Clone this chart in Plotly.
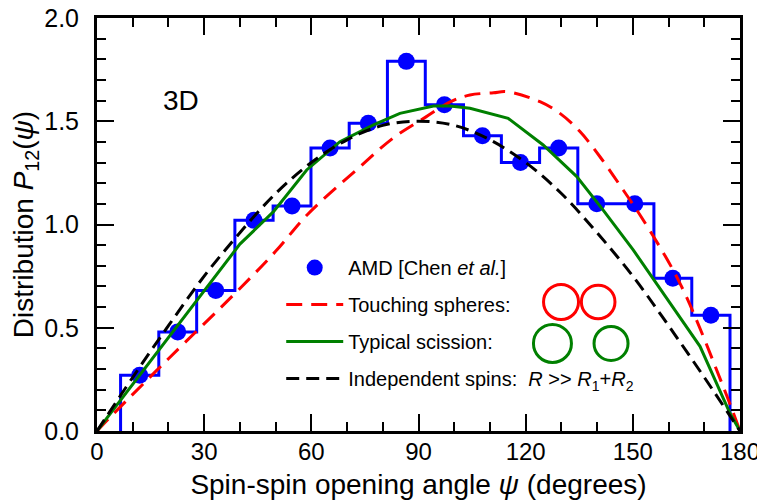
import plotly.graph_objects as go

# ---- data ----
bin_edges = [6.6, 17.3, 27.9, 38.6, 49.3, 59.9, 70.6, 81.3, 91.9, 102.6,
             113.2, 123.9, 134.6, 145.2, 155.9, 166.5, 177.2]
amd_values = [0.27, 0.48, 0.68, 1.02, 1.09, 1.37, 1.49, 1.79, 1.58, 1.43,
              1.30, 1.37, 1.10, 1.10, 0.74, 0.56]

touch_x = [0, 5, 20, 40, 50, 59, 73, 83, 92, 99, 104.4, 111, 114.7, 124, 129.6,
           135.2, 140.8, 147.3, 152.9, 163.2, 175.3, 180]
touch_y = [0, 0.09, 0.35, 0.69, 0.87, 1.05, 1.27, 1.42, 1.52, 1.595, 1.627, 1.638,
           1.643, 1.595, 1.538, 1.45, 1.328, 1.167, 1.022, 0.715, 0.215, 0]

sciss_x = [0, 20, 40, 49.4, 58.7, 68, 77.4, 84.8, 94.2, 98.8, 104.4, 115.1, 124.9,
           134.3, 141.7, 150.1, 155.7, 168.8, 177.2, 180]
sciss_y = [0, 0.45, 0.905, 1.062, 1.264, 1.401, 1.482, 1.538, 1.574, 1.574, 1.563,
           1.514, 1.385, 1.232, 1.07, 0.877, 0.739, 0.41, 0.086, 0]

indep_x = [0, 10, 20, 30, 40, 50, 60, 70, 80, 90, 100, 110, 120, 130, 140, 150,
           160, 170, 180]
indep_y = [0, 0.26, 0.51, 0.75, 0.96, 1.15, 1.30, 1.41, 1.48, 1.50, 1.48, 1.41,
           1.30, 1.15, 0.96, 0.75, 0.51, 0.26, 0]

x_ticks = [0, 30, 60, 90, 120, 150, 180]
y_ticks = [0.0, 0.5, 1.0, 1.5, 2.0]

# derived
centers = [(a + b) / 2 for a, b in zip(bin_edges[:-1], bin_edges[1:])]
step_x = [bin_edges[0]] + bin_edges
step_y = [0] + amd_values + [0]

FONT = "Liberation Sans, Arial, Helvetica, sans-serif"
BLUE, RED, GREEN = "#0000ff", "#ff0000", "#008000"

fig = go.Figure()
fig.add_trace(go.Scatter(x=step_x, y=step_y, mode="lines", line_shape="hv",
                         line=dict(color=BLUE, width=3), showlegend=False,
                         hoverinfo="skip"))
fig.add_trace(go.Scatter(x=centers, y=amd_values, mode="markers",
                         marker=dict(color=BLUE, size=17),
                         name="AMD [Chen <i>et al.</i>]", legendgroup="a"))
fig.add_trace(go.Scatter(x=touch_x, y=touch_y, mode="lines", line_shape="spline",
                         line=dict(color=RED, width=3, dash="16px,9px"),
                         name="Touching spheres:", legendgroup="b"))
fig.add_trace(go.Scatter(x=sciss_x, y=sciss_y, mode="lines",
                         line=dict(color=GREEN, width=3),
                         name="Typical scission:", legendgroup="c"))
fig.add_trace(go.Scatter(x=indep_x, y=indep_y, mode="lines", line_shape="spline",
                         line=dict(color="black", width=3, dash="13px,7px"),
                         name="Independent spins:&nbsp;&nbsp;<i>R</i> &gt;&gt; <i>R</i><sub>1</sub>+<i>R</i><sub>2</sub>",
                         legendgroup="d"))

# illustration circles (pixel-sized, anchored in data space)
for cx, cy, r, col in [(129.9, 0.625, 17.5, RED), (140.3, 0.625, 16.8, RED),
                       (127.5, 0.424, 19.0, GREEN), (143.9, 0.424, 17.0, GREEN)]:
    fig.add_shape(type="circle", xref="x", yref="y", xsizemode="pixel",
                  ysizemode="pixel", xanchor=cx, yanchor=cy,
                  x0=-r, x1=r, y0=-r, y1=r, line=dict(color=col, width=3))

fig.add_annotation(x=23.5, y=1.6, xref="x", yref="y", text="3D", showarrow=False,
                   font=dict(size=28, color="black", family=FONT))

axis_common = dict(showline=True, linewidth=3, linecolor="black", mirror="allticks",
                   ticks="inside", ticklen=17, tickwidth=2, tickcolor="black",
                   showgrid=False, zeroline=False, automargin=False,
                   ticklabeloverflow="allow")
fig.update_xaxes(range=[0, 180], tickvals=x_ticks, ticklabelstandoff=-3,
                 tickfont=dict(size=24, color="black", family=FONT),
                 minor=dict(dtick=10, ticks="inside", ticklen=9, tickwidth=2,
                            tickcolor="black", showgrid=False),
                 title=dict(text="Spin-spin opening angle <i>ψ</i> (degrees)",
                            font=dict(size=28, color="black", family=FONT)),
                 **axis_common)
fig.update_yaxes(range=[0, 2], tickvals=y_ticks, tickformat=".1f", ticklabelstandoff=10,
                 tickfont=dict(size=25, color="black", family=FONT),
                 minor=dict(dtick=0.1, ticks="inside", ticklen=9, tickwidth=2,
                            tickcolor="black", showgrid=False),
                 title=dict(text="Distribution <i>P</i><sub>12</sub>(<i>ψ</i>)",
                            font=dict(size=28, color="black", family=FONT),
                            standoff=30),
                 **axis_common)

# the page body adds an 8px offset, so the figure is 8px smaller than the window
fig.update_layout(
    width=757, height=492,
    margin=dict(l=89, r=25, t=10, b=69),
    paper_bgcolor="white", plot_bgcolor="white",
    font=dict(family=FONT, color="black"),
    legend=dict(x=0.2865, y=0.443, xanchor="left", yanchor="top",
                bgcolor="rgba(0,0,0,0)", font=dict(size=20, color="black", family=FONT),
                tracegroupgap=8, itemwidth=57, traceorder="grouped"),
)

fig.write_html("out.html")
